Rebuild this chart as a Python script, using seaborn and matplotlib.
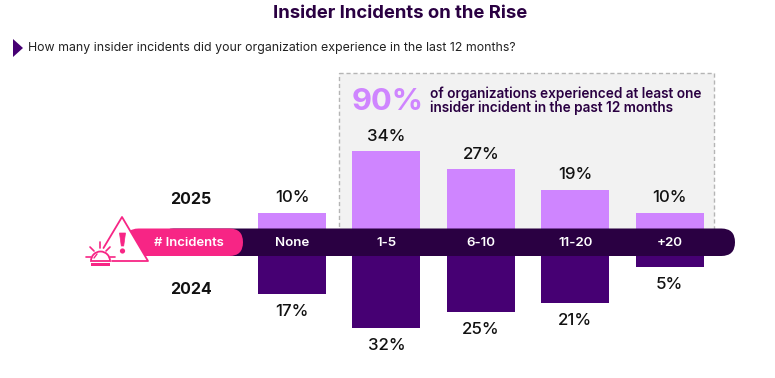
import matplotlib
matplotlib.use("Agg")
import matplotlib.pyplot as plt
import seaborn as sns
from matplotlib.patches import Circle, FancyBboxPatch, Polygon, Rectangle, Wedge
from matplotlib.transforms import blended_transform_factory

categories = ["None", "1-5", "6-10", "11-20", "+20"]
values_2025 = [10, 34, 27, 19, 10]
values_2024 = [17, 32, 25, 21, 5]

LIGHT = "#CF85FF"
DARK = "#460073"
BAND = "#2A0042"
PINK = "#F72585"
INK = "#111111"
W, H = 775, 378

sns.set_theme(style="white")
plt.rcParams["font.family"] = ["Inter", "DejaVu Sans"]
fig = plt.figure(figsize=(W / 100, H / 100), dpi=100, facecolor="white")


def px_axes(x0, y0, x1, y1, z):
    a = fig.add_axes([x0 / W, 1 - y1 / H, (x1 - x0) / W, (y1 - y0) / H], zorder=z)
    a.axis("off")
    a.patch.set_alpha(0)
    return a


# background (callout box)
bg = px_axes(0, 0, W, H, 0)
bg.set_xlim(0, W)
bg.set_ylim(H, 0)
bg.add_patch(Rectangle((339, 73), 375, 167, fc="#F2F2F2", ec="#B5B5B5", lw=1, ls=(0, (3, 2))))

# bars
x_left = -292 / 94.4
x_right = (W - 292) / 94.4

ax_up = px_axes(0, 0, W, 238, 1)
sns.barplot(x=categories, y=values_2025, color=LIGHT, saturation=1, width=0.72, ax=ax_up,
            edgecolor="none", linewidth=0)
ax_up.set_xlim(x_left, x_right)
ax_up.set_ylim(0, 238 / 2.55)
ax_up.axis("off")
for c in ax_up.containers:
    ax_up.bar_label(c, fmt="%g%%", padding=5.5, fontsize=12.2, fontweight="medium", color=INK)

ax_dn = px_axes(0, 256, W, H, 1)
sns.barplot(x=categories, y=values_2024, color=DARK, saturation=1, width=0.72, ax=ax_dn,
            edgecolor="none", linewidth=0)
ax_dn.set_xlim(x_left, x_right)
ax_dn.set_ylim(122 / 2.25, 0)
ax_dn.axis("off")
for c in ax_dn.containers:
    ax_dn.bar_label(c, fmt="%g%%", padding=7, fontsize=12.2, fontweight="medium", color=INK)

# overlay: band, pill, icon, text
ov = px_axes(0, 0, W, H, 2)
ov.set_xlim(0, W)
ov.set_ylim(H, 0)
ov.add_patch(FancyBboxPatch((160, 228.5), 575, 27.5, boxstyle="round,pad=0,rounding_size=13.7",
                            fc=BAND, ec="none"))
ov.add_patch(FancyBboxPatch((125, 228.5), 118, 27.5, boxstyle="round,pad=0,rounding_size=13.7",
                            fc=PINK, ec="none"))
ov.add_patch(Polygon([(122, 217), (148, 261), (104, 261), (100, 250)], closed=True, fc="white", ec="none"))
ov.plot([103.5, 122, 148, 112], [248, 217, 261, 261], color=PINK, lw=1.3, solid_joinstyle="round")
ov.add_patch(Polygon([(119.5, 233), (125.5, 233), (123.7, 246), (121.3, 246)], closed=True,
                     fc=PINK, ec=PINK, lw=.5))
ov.add_patch(Circle((122.5, 251), 2.6, fc=PINK, ec="none"))
# siren
ov.add_patch(Rectangle((91, 263), 19, 3, fc=PINK, ec="none"))
ov.add_patch(Wedge((100.5, 261), 9.5, 180, 360, fc="white", ec=PINK, lw=1.3))
ov.plot([94, 97], [258, 254], color=PINK, lw=1, solid_capstyle="round")
for (x0, y0, x1, y1) in [(86, 257, 91, 257), (110, 257, 115, 257), (90, 247, 94, 251),
                         (110, 247, 106, 251), (100, 242, 100, 248)]:
    ov.plot([x0, x1], [y0, y1], color=PINK, lw=1.2, solid_capstyle="round")

ov.text(188.5, 242.5, "# Incidents", color="white", fontsize=9.4, fontweight="semibold", ha="center", va="center")
tr = blended_transform_factory(ax_up.transData, ov.transData)
for i, cat in enumerate(categories):
    ov.text(i, 242.5, cat, transform=tr, color="white", fontsize=9.6, fontweight="semibold",
            ha="center", va="center")

ov.text(400.5, 13, "Insider Incidents on the Rise", color="#2A0042", fontsize=13.3, fontweight="bold",
        ha="center", va="center")
ov.add_patch(Polygon([(13, 39), (23, 48), (13, 57)], closed=True, fc=DARK, ec="none"))
ov.text(28, 48, "How many insider incidents did your organization experience in the last 12 months?",
        color="#222222", fontsize=8.9, ha="left", va="center")
ov.text(352, 102, "90%", color=LIGHT, fontsize=22.3, fontweight="bold", ha="left", va="center")
ov.text(430, 93.5, "of organizations experienced at least one", color="#2A0042", fontsize=9.8,
        fontweight="semibold", ha="left", va="center")
ov.text(430, 108, "insider incident in the past 12 months", color="#2A0042", fontsize=9.8,
        fontweight="semibold", ha="left", va="center")
ov.text(191, 200, "2025", color=INK, fontsize=11.5, fontweight="bold", ha="center", va="center")
ov.text(191, 289, "2024", color=INK, fontsize=11.5, fontweight="bold", ha="center", va="center")

fig.savefig("out.png", dpi=100)
